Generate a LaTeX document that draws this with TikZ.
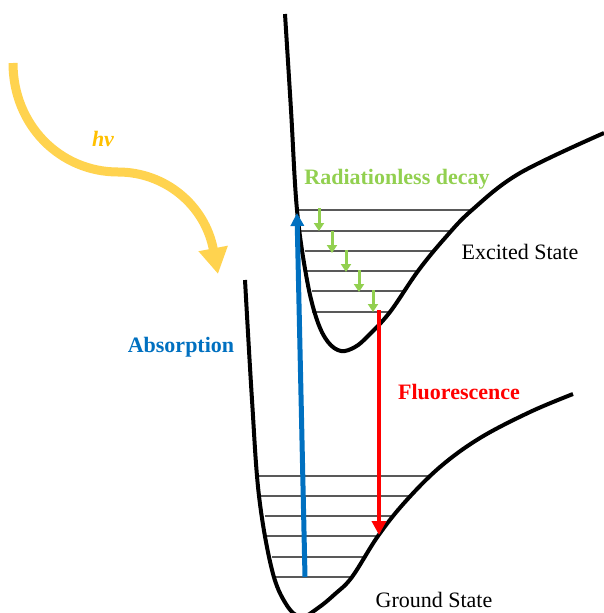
\documentclass[tikz,border=0pt]{standalone}
\usepackage{fontspec}
\setmainfont{Liberation Serif}
\usepackage{xcolor}
\usetikzlibrary{arrows.meta}

\definecolor{sunyellow}{HTML}{FFD34F}
\definecolor{hvgold}{HTML}{FFC000}
\definecolor{decaygreen}{HTML}{92D050}
\definecolor{absblue}{HTML}{0070C0}
\definecolor{fluored}{HTML}{FF0000}

\begin{document}
\begin{tikzpicture}[
    x=1pt, y=-1pt,
    well/.style={line width=4pt, black},
    level/.style={line width=2.4pt, black!65},
    label/.style={font=\fontsize{22}{26}\selectfont, anchor=base},
    boldlabel/.style={label, font=\fontsize{22}{26}\selectfont\bfseries},
    decayarrow/.style={-{Triangle[length=8pt, width=10pt]}, line width=3pt, decaygreen},
    photon/.style={-{Triangle[length=26pt, width=28pt]}, line width=9pt, sunyellow}
]
\useasboundingbox (0,0) rectangle (604,613);
\clip (0,0) rectangle (604,613);

% vibrational levels
\foreach \y/\xl/\xr in {210/297/472, 231/300/452, 251/305/433, 271/306/418, 291/312/404, 312/312/391}
    \draw[level] (\xl,\y) -- (\xr,\y);
\foreach \y/\xl/\xr in {476/258/432, 496/259/412, 516/265/393, 536/265/378, 557/272/365, 577/272/352}
    \draw[level] (\xl,\y) -- (\xr,\y);

% potential wells
\draw[well] plot[smooth, tension=0.6] coordinates {(285,14) (291,110) (297,210) (307,280) (317,320) (328,342) (341,351) (355,347) (368,336) (390,312) (418,271) (445,238) (472,210) (520,173) (604,133)};
\draw[well] plot[smooth, tension=0.6] coordinates {(245,280) (252,400) (259,496) (272,570) (286,604) (301,617) (318,608) (335,594) (352,577) (378,536) (405,502) (440,467) (480,438) (530,412) (573,394)};

% transitions
\coordinate (absstart) at (305,577);
\coordinate (absend) at (297,213);
\coordinate (flstart) at (379,310);
\coordinate (flend) at (379,535);
\draw[-{Triangle[length=13pt, width=13pt]}, line width=5pt, absblue] (absstart) -- (absend);
\draw[-{Triangle[length=14pt, width=14pt]}, line width=4.5pt, fluored] (flstart) -- (flend);

\foreach \x/\ya/\yb in {319/208/231, 332/231/253, 346/250/272, 359/270/292, 373/290/312}
    \draw[decayarrow] (\x,\ya) -- (\x,\yb);

% incoming light
\coordinate (lightstart) at (13,63);
\coordinate (lighttip) at (218,274);
\draw[photon] (lightstart) .. controls (13,125) and (60,172) .. (118,172)
    .. controls (165,172) and (205,205) .. (lighttip);

% labels
\node[boldlabel, text=hvgold, font=\fontsize{22}{26}\selectfont\bfseries\itshape] (hv) at (103,146) {hv};
\node[boldlabel, text=decaygreen] (decay) at (397,184) {Radiationless decay};
\node[label] (excited) at (520,259) {Excited State};
\node[boldlabel, text=absblue] (absorb) at (181,352) {Absorption};
\node[boldlabel, text=fluored] (fluor) at (459,399) {Fluorescence};
\node[label] (ground) at (434,607) {Ground State};
\end{tikzpicture}
\end{document}
